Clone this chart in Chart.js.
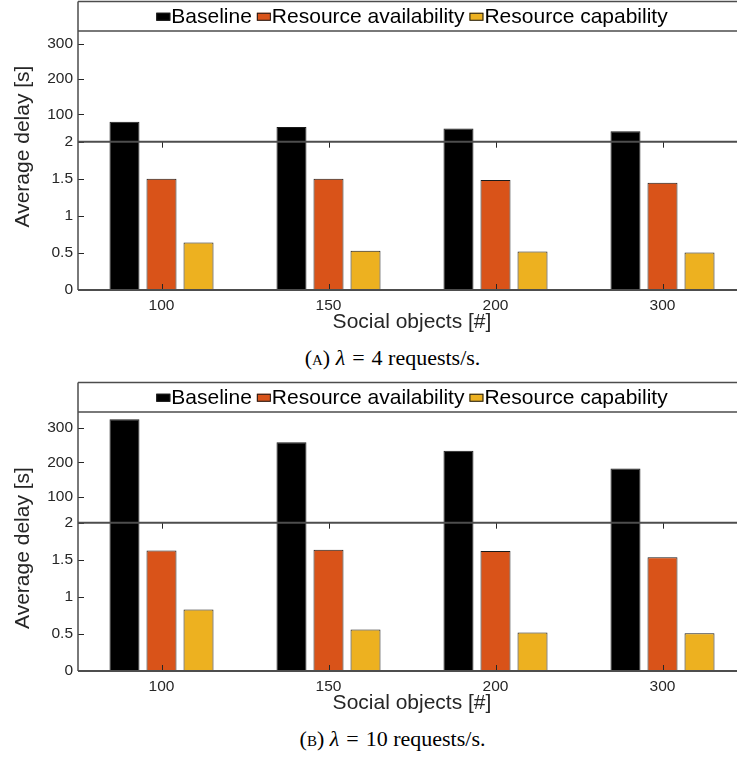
<!DOCTYPE html>
<html>
<head>
<meta charset="utf-8">
<title>Average delay</title>
<script src="https://cdn.jsdelivr.net/npm/chart.js@4.4.1/dist/chart.umd.min.js"></script>
<style>
    body { margin: 0; width: 737px; height: 764px; overflow: hidden; background: #fff; }
    .panel { position: relative; width: 737px; height: 381px; overflow: hidden; }
    .panel canvas { display: block; }
    .caption {
        position: absolute; left: 0; top: 340px; width: 785px;
        text-align: center; line-height: 36px; color: #000;
        font-family: "Liberation Serif", "Times New Roman", serif; font-size: 22px;
    }
    .sc { font-variant: small-caps; }
    .eq { margin: 0 7px; }
</style>
</head>
<body>

<div class="panel">
    <canvas id="chartA" width="746" height="340"></canvas>
    <div class="caption">(<span class="sc">a</span>) <i>λ</i><span class="eq">=</span>4 requests/s.</div>
</div>

<div class="panel">
    <canvas id="chartB" width="746" height="340"></canvas>
    <div class="caption">(<span class="sc">b</span>) <i>λ</i><span class="eq">=</span>10 requests/s.</div>
</div>

<script>
/*==================================================
DATA
==================================================*/

const categories = ["100", "150", "200", "300"];

const seriesNames = ["Baseline", "Resource availability", "Resource capability"];
const seriesColors = ["#000000", "#D95319", "#EDB120"];

// lambda = 4 requests/s
const baselineA = [79, 64, 60, 52];
const availabilityA = [1.50, 1.50, 1.485, 1.445];
const capabilityA = [0.64, 0.53, 0.52, 0.505];

// lambda = 10 requests/s
const baselineB = [326, 259, 234, 182];
const availabilityB = [1.625, 1.635, 1.62, 1.535];
const capabilityB = [0.83, 0.56, 0.52, 0.508];

const lowerTicks = [0, 0.5, 1, 1.5, 2];
const upperTicks = [100, 200, 300];

/*==================================================
STYLE
==================================================*/

const FONT = '"Liberation Sans", Arial, Helvetica, sans-serif';
const TEXT = "#262626";
const AXIS = "#4d4d4d";

/*==================================================
FRAME, LEGEND BOX, BREAK LINE, Y TITLE
==================================================*/

const framePlugin = {

    id: "frame",

    afterDatasetsDraw(chart, args, opts) {

        const ctx = chart.ctx;
        const a = chart.chartArea;
        const low = chart.scales.yLow;
        const high = chart.scales.yHigh;
        const x = chart.scales.x;

        const line = (x1, y1, x2, y2) => {
            ctx.beginPath();
            ctx.moveTo(x1, y1);
            ctx.lineTo(x2, y2);
            ctx.stroke();
        };

        ctx.save();

        // inward tick marks
        ctx.strokeStyle = TEXT;
        ctx.lineWidth = 1;

        [low, high].forEach(s => {
            s.ticks.forEach(t => {
                const py = Math.round(s.getPixelForValue(t.value)) + 0.5;
                line(a.left, py, a.left + 6, py);
            });
        });

        categories.forEach((c, i) => {
            const px = Math.round(x.getPixelForTick(i)) + 0.5;
            line(px, a.bottom, px, a.bottom - 6);
            line(px, low.top, px, low.top + 6);
        });

        // axis lines
        ctx.strokeStyle = AXIS;
        ctx.lineWidth = 2;
        line(a.left, low.top, a.right, low.top);
        line(a.left, a.bottom, a.right, a.bottom);

        ctx.lineWidth = 1.5;
        line(a.left, 1.5, a.left, a.bottom);
        line(a.left, 1.5, a.right, 1.5);
        line(a.left, a.top, a.right, a.top);

        // legend
        ctx.font = "21px " + FONT;
        ctx.textBaseline = "middle";
        ctx.textAlign = "left";

        const items = chart.data.datasets.map(d => ({
            label: d.label,
            color: d.backgroundColor,
            w: ctx.measureText(d.label).width
        }));

        const gap = 5;
        const total = items.reduce((s, it) => s + 15 + it.w, 0) + gap * (items.length - 1);
        let lx = (a.left + a.right) / 2 - total / 2;
        const ly = (1.5 + a.top) / 2 + 0.5;

        items.forEach(it => {
            ctx.fillStyle = it.color;
            ctx.fillRect(lx, ly - 4, 14, 8);
            ctx.strokeStyle = "#1a1a1a";
            ctx.lineWidth = 1;
            ctx.strokeRect(lx + 0.5, ly - 3.5, 13, 7);
            ctx.fillStyle = "#000";
            ctx.fillText(it.label, lx + 15, ly);
            lx += 15 + it.w + gap;
        });

        // y axis title
        ctx.translate(23, opts.titleY);
        ctx.rotate(-Math.PI / 2);
        ctx.textAlign = "center";
        ctx.fillStyle = TEXT;
        ctx.fillText("Average delay [s]", 0, 0);

        ctx.restore();

    }

};

/*==================================================
PANEL
==================================================*/

function createPanel(id, baseline, availability, capability, upperRange, titleY) {

    const ctx = document.getElementById(id);

    const tickFont = { family: FONT, size: 15.5 };

    const tickLabel = value => String(value);

    return new Chart(ctx, {

        type: "bar",

        data: {

            labels: categories,

            datasets: [

                {
                    // broken axis: the bar runs on down through the lower part
                    label: seriesNames[0],
                    data: baseline,
                    yAxisID: "yHigh",
                    base: -1000,
                    clip: { left: 0, right: 0, top: 0, bottom: 148 },
                    backgroundColor: seriesColors[0],
                    borderColor: "#1a1a1a",
                    borderWidth: 1
                },

                {
                    label: seriesNames[1],
                    data: availability,
                    yAxisID: "yLow",
                    backgroundColor: seriesColors[1],
                    borderColor: "#1a1a1a",
                    borderWidth: 1
                },

                {
                    label: seriesNames[2],
                    data: capability,
                    yAxisID: "yLow",
                    backgroundColor: seriesColors[2],
                    borderColor: "#1a1a1a",
                    borderWidth: 1
                }

            ]

        },

        options: {

            responsive: false,
            animation: false,
            events: [],

            categoryPercentage: 0.665,
            barPercentage: 0.81,

            layout: {
                padding: { top: 31, left: 0, right: 0, bottom: 0 }
            },

            plugins: {
                legend: { display: false },
                tooltip: { enabled: false },
                frame: { titleY: titleY }
            },

            scales: {

                x: {
                    type: "category",
                    grid: { display: false, drawTicks: false },
                    border: { display: false },
                    ticks: { font: tickFont, color: TEXT, padding: 6 },
                    title: {
                        display: true,
                        text: "Social objects [#]",
                        font: { family: FONT, size: 21 },
                        color: TEXT,
                        padding: { top: 0, bottom: 5 }
                    },
                    afterFit(scale) { scale.height = 50; }
                },

                yLow: {
                    type: "linear",
                    position: "left",
                    stack: "delay",
                    stackWeight: 148.3,
                    min: 0,
                    max: 2,
                    afterBuildTicks(scale) {
                        scale.ticks = lowerTicks.map(v => ({ value: v }));
                    },
                    grid: { display: false, drawTicks: false },
                    border: { display: false },
                    ticks: { font: tickFont, color: TEXT, padding: 5, callback: tickLabel },
                    afterFit(scale) { scale.width = 78; }
                },

                yHigh: {
                    type: "linear",
                    position: "left",
                    stack: "delay",
                    stackWeight: 110.7,
                    min: upperRange[0],
                    max: upperRange[1],
                    afterBuildTicks(scale) {
                        scale.ticks = upperTicks.map(v => ({ value: v }));
                    },
                    grid: { display: false, drawTicks: false },
                    border: { display: false },
                    ticks: { font: tickFont, color: TEXT, padding: 5, callback: tickLabel },
                    afterFit(scale) { scale.width = 78; }
                }

            }

        },

        plugins: [framePlugin]

    });

}

createPanel("chartA", baselineA, availabilityA, capabilityA, [22.4, 336], 146.5);

createPanel("chartB", baselineB, availabilityB, capabilityB, [23.9, 347], 167);
</script>
</body>
</html>
